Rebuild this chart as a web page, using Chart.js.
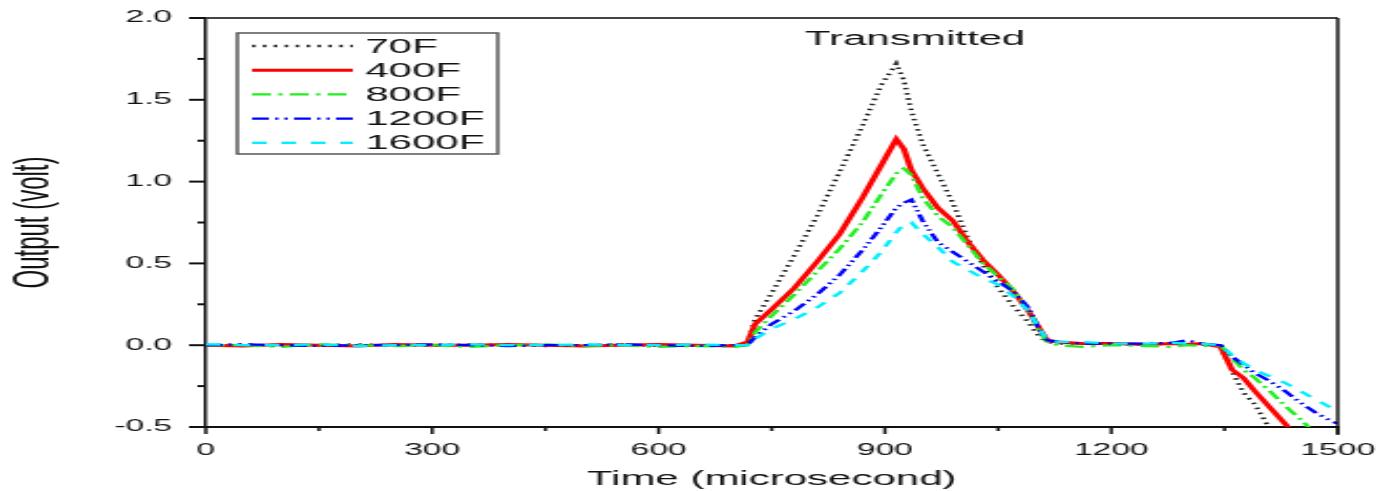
<!DOCTYPE html>
<html>
<head>
<meta charset="utf-8">
<script src="https://cdn.jsdelivr.net/npm/chart.js@4.4.1/dist/chart.umd.min.js"></script>
<style>
  html, body { margin: 0; padding: 0; background: #fff; overflow: hidden; }
  /* the reference picture is stretched sideways, so the canvas is too */
  #wrap { width: 658px; height: 491px; transform: scaleX(2.1); transform-origin: 0 0; }
</style>
</head>
<body>
<div id="wrap"><canvas id="chart" width="658" height="491"></canvas></div>
<script>
// time in microseconds, shared by every trace
const times = [0, 50, 100, 150, 200, 250, 300, 350, 400, 450, 500, 550, 600, 650, 700,
  718, 728, 750, 780, 810, 840, 870, 895, 915, 925, 935, 950, 970, 990,
  1010, 1030, 1050, 1070, 1090, 1105, 1115, 1130, 1160, 1200, 1250, 1280, 1300, 1320,
  1345, 1360, 1375, 1390, 1410, 1430, 1450, 1470, 1490, 1500];

const seriesNames = ['70F', '400F', '800F', '1200F', '1600F'];

const out70 = [0, 0.005, -0.005, 0, 0.005, 0, -0.005, 0.005, 0, -0.005, 0, 0.005, -0.005, 0, 0,
  0.01, 0.16, 0.32, 0.55, 0.79, 1.06, 1.34, 1.59, 1.72, 1.62, 1.43, 1.23, 1.05, 0.87,
  0.65, 0.49, 0.35, 0.24, 0.14, 0.05, 0.02, 0.01, 0.01, 0.005, 0.005, 0.01, 0.01, 0.005,
  -0.01, -0.16, -0.29, -0.36, -0.51, -0.65, -0.79, -0.93, -1.07, -1.14];

const out400 = [0, -0.005, 0.005, 0, -0.005, 0.005, 0, 0, 0.005, 0, -0.005, 0, 0.005, 0, -0.005,
  0.02, 0.13, 0.22, 0.35, 0.51, 0.68, 0.90, 1.10, 1.26, 1.20, 1.07, 0.96, 0.84, 0.76,
  0.63, 0.52, 0.43, 0.33, 0.21, 0.10, 0.03, 0.02, 0.01, 0.01, 0.005, 0.01, 0.005, 0.01,
  -0.01, -0.15, -0.20, -0.28, -0.38, -0.48, -0.58, -0.68, -0.78, -0.83];

const out800 = [0, 0, -0.01, 0.005, 0, -0.005, 0, -0.01, 0, 0.005, -0.005, 0, -0.01, -0.005, -0.01,
  0, 0.08, 0.18, 0.31, 0.45, 0.59, 0.75, 0.92, 1.05, 1.08, 1.04, 0.90, 0.79, 0.72,
  0.61, 0.50, 0.42, 0.34, 0.22, 0.08, 0.02, 0, -0.01, 0, -0.005, -0.01, 0, -0.005,
  0, -0.08, -0.15, -0.20, -0.28, -0.37, -0.45, -0.54, -0.63, -0.67];

const out1200 = [0, 0.005, 0, -0.005, 0, 0, 0.005, 0, -0.005, 0, 0, 0.005, 0, -0.005, 0,
  0, 0.05, 0.13, 0.21, 0.31, 0.43, 0.58, 0.72, 0.84, 0.87, 0.89, 0.76, 0.63, 0.57,
  0.51, 0.45, 0.39, 0.33, 0.23, 0.09, 0.03, 0.02, 0.01, 0.01, 0.01, 0.015, 0.03, 0.01,
  0, -0.07, -0.12, -0.17, -0.22, -0.28, -0.35, -0.41, -0.46, -0.48];

const out1600 = [0.005, 0, 0, 0.005, -0.005, 0, 0, 0.005, 0, 0, 0.005, 0, 0, 0.005, 0,
  0, 0.04, 0.10, 0.16, 0.23, 0.32, 0.45, 0.57, 0.69, 0.74, 0.75, 0.68, 0.60, 0.51,
  0.46, 0.41, 0.37, 0.30, 0.21, 0.10, 0.03, 0.02, 0.02, 0.01, 0.01, 0.015, 0.01, 0.01,
  0, -0.06, -0.11, -0.15, -0.19, -0.23, -0.28, -0.33, -0.38, -0.41];

const noteText = 'Transmitted';
const notePos = [940, 1.87];

const FONT = "'Liberation Sans', Arial, sans-serif";
const INK = '#111';

const toPoints = (vals) => vals.map((v, i) => ({ x: times[i], y: v }));

const styles = [
  { color: '#222222', width: 2.4, dash: [1.6, 3.6] },
  { color: '#ff0000', width: 3, dash: [] },
  { color: '#22ee22', width: 2.3, dash: [9, 3.5, 2, 3.5] },
  { color: '#0000ff', width: 2.3, dash: [8, 3, 1.5, 3, 1.5, 3] },
  { color: '#00eeff', width: 2.3, dash: [7, 7] },
];

const allValues = [out70, out400, out800, out1200, out1600];

const datasets = allValues.map((vals, i) => ({
  label: seriesNames[i],
  data: toPoints(vals),
  borderColor: styles[i].color,
  borderWidth: styles[i].width,
  borderDash: styles[i].dash,
  pointRadius: 0,
  tension: 0,
  fill: false,
  order: 5 - i,
}));

// tick marks (short minor, long major), top/right frame, legend and note
const framePlugin = {
  id: 'framePlugin',
  afterDraw(chart) {
    const { ctx, chartArea: a, scales: { x, y } } = chart;
    ctx.save();
    ctx.strokeStyle = INK;
    ctx.setLineDash([]);

    ctx.lineWidth = 1.5;
    x.ticks.forEach((t) => {
      const px = x.getPixelForValue(t.value);
      const len = t.value % 300 === 0 ? 7 : 4;
      ctx.beginPath();
      ctx.moveTo(px, a.bottom);
      ctx.lineTo(px, a.bottom + len);
      ctx.stroke();
    });

    ctx.lineWidth = 2;
    y.ticks.forEach((t) => {
      const py = y.getPixelForValue(t.value);
      const major = Math.abs(t.value * 2 - Math.round(t.value * 2)) < 1e-9;
      const len = major ? 8 : 4;
      ctx.beginPath();
      ctx.moveTo(a.left - len, py);
      ctx.lineTo(a.left, py);
      ctx.stroke();
    });

    // top and right frame lines
    ctx.strokeStyle = '#444';
    ctx.lineWidth = 2;
    ctx.beginPath();
    ctx.moveTo(a.left, a.top);
    ctx.lineTo(a.right, a.top);
    ctx.stroke();
    ctx.strokeStyle = INK;
    ctx.lineWidth = 1.5;
    ctx.beginPath();
    ctx.moveTo(a.right, a.top);
    ctx.lineTo(a.right, a.bottom + 8);
    ctx.stroke();

    // legend box
    const bx = a.left + 15, by = a.top + 15, bw = 124, bh = 121;
    ctx.strokeStyle = '#555';
    ctx.lineWidth = 1.5;
    ctx.strokeRect(bx, by, bw, bh);
    ctx.font = '20px ' + FONT;
    ctx.textBaseline = 'middle';
    ctx.textAlign = 'left';
    ctx.fillStyle = INK;
    chart.data.datasets.forEach((ds, i) => {
      const ry = by + 13 + i * 24.2;
      ctx.strokeStyle = ds.borderColor;
      ctx.lineWidth = ds.borderWidth;
      ctx.setLineDash(ds.borderDash);
      ctx.beginPath();
      ctx.moveTo(bx + 7, ry);
      ctx.lineTo(bx + 55, ry);
      ctx.stroke();
      ctx.setLineDash([]);
      ctx.fillText(ds.label, bx + 61, ry + 1);
    });

    // annotation above the peaks
    ctx.font = '20px ' + FONT;
    ctx.textAlign = 'center';
    ctx.fillText(noteText, x.getPixelForValue(notePos[0]), y.getPixelForValue(notePos[1]));
    ctx.restore();
  },
};

new Chart(document.getElementById('chart'), {
  type: 'line',
  data: { datasets },
  plugins: [framePlugin],
  options: {
    responsive: false,
    animation: false,
    devicePixelRatio: 1,
    layout: { padding: { top: 18, right: 21, left: 0, bottom: 0 } },
    plugins: { legend: { display: false }, tooltip: { enabled: false } },
    scales: {
      x: {
        type: 'linear',
        min: 0,
        max: 1500,
        afterFit: (s) => { s.height = 64; s.paddingLeft = 0; s.paddingRight = 0; },
        grid: { drawOnChartArea: false, drawTicks: false },
        border: { display: true, color: INK, width: 2 },
        ticks: {
          stepSize: 150,
          autoSkip: false,
          maxRotation: 0,
          padding: 14,
          color: INK,
          font: { family: FONT, size: 16 },
          callback: (v) => (v % 300 === 0 ? String(v) : ''),
        },
        title: {
          display: true,
          text: 'Time (microsecond)',
          color: INK,
          font: { family: FONT, size: 20 },
          padding: { top: 0, bottom: 0 },
        },
      },
      y: {
        min: -0.5,
        max: 2.0,
        afterFit: (s) => { s.width = 98; s.paddingTop = 0; s.paddingBottom = 0; },
        grid: { drawOnChartArea: false, drawTicks: false },
        border: { display: true, color: INK, width: 1.5 },
        ticks: {
          stepSize: 0.25,
          autoSkip: false,
          padding: 16,
          color: INK,
          font: { family: FONT, size: 16 },
          callback: (v) => (Math.abs(v * 2 - Math.round(v * 2)) < 1e-9 ? v.toFixed(1) : ''),
        },
        title: {
          display: true,
          text: 'Output (volt)',
          color: INK,
          font: { family: "'Liberation Sans Narrow', " + FONT, size: 24 },
          padding: { top: 2, bottom: 0 },
        },
      },
    },
  },
});
</script>
</body>
</html>
